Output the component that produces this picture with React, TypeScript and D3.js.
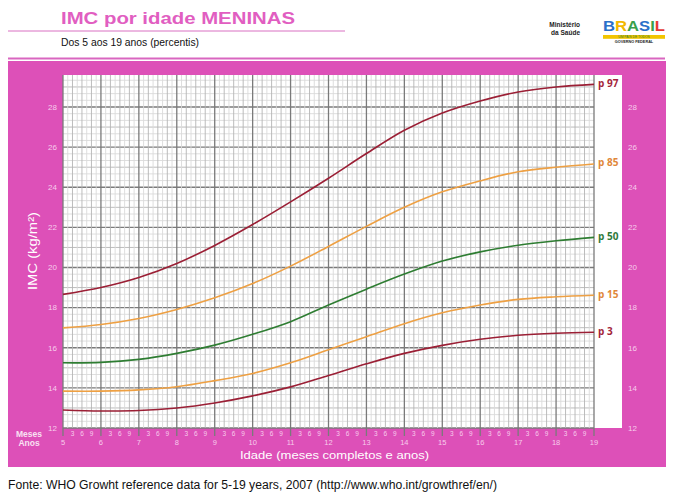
import React from "react";
import * as d3 from "d3";

const ages = [5, 6, 7, 8, 9, 10, 11, 12, 13, 14, 15, 16, 17, 18, 19];
const p3 = [12.9, 12.85, 12.87, 13.0, 13.25, 13.6, 14.05, 14.62, 15.2, 15.72, 16.12, 16.42, 16.62, 16.72, 16.77];
const p15 = [13.84, 13.84, 13.9, 14.06, 14.36, 14.72, 15.25, 15.9, 16.55, 17.2, 17.74, 18.13, 18.41, 18.54, 18.62];
const p50 = [15.25, 15.27, 15.42, 15.72, 16.13, 16.67, 17.3, 18.13, 18.92, 19.67, 20.32, 20.78, 21.11, 21.33, 21.5];
const p85 = [16.99, 17.16, 17.46, 17.91, 18.49, 19.2, 20.07, 21.05, 22.05, 23.0, 23.77, 24.32, 24.77, 25.0, 25.16];
const p97 = [18.66, 19.0, 19.5, 20.2, 21.1, 22.14, 23.27, 24.45, 25.68, 26.84, 27.7, 28.3, 28.75, 29.0, 29.13];

const seriesNames = ["p 97", "p 85", "p 50", "p 15", "p 3"];
const seriesValues = [p97, p85, p50, p15, p3];
const seriesColors = ["#9b1f35", "#eea043", "#2e7d32", "#eea043", "#9b1f35"];
const labelColors = ["#a3243a", "#e0873a", "#2f7a3a", "#e0873a", "#a3243a"];

const yTicks = [12, 14, 16, 18, 20, 22, 24, 26, 28];
const monthLabels = ["3", "6", "9"];

const title = "IMC por idade MENINAS";
const subtitle = "Dos 5 aos 19 anos (percentis)";
const xTitle = "Idade (meses completos e anos)";
const yTitle = "IMC (kg/m²)";
const footer = "Fonte: WHO Growht reference data for 5-19 years, 2007 (http://www.who.int/growthref/en/)";

const logoLetters = ["B", "R", "A", "S", "I", "L"];
const logoColors = ["#2a6fc9", "#f2b800", "#3aa04a", "#2a6fc9", "#3aa04a", "#e53935"];

const PINK = "#dd50b8";
const FONT = "'Liberation Sans', Arial, sans-serif";

export default function App() {
  const x = d3.scaleLinear().domain([5, 19]).range([63, 594]);
  const y = d3.scaleLinear().domain([12, 28]).range([428, 107]);
  const gridTop = 75;
  const gridBottom = y(12);
  const gridLeft = x(5);
  const gridRight = x(19);

  // vertical grid lines (every 1.5 months)
  const vLines: { v: number; kind: number }[] = [];
  for (let i = 0; i <= 14 * 8; i++) {
    const v = 5 + i / 8;
    const kind = i % 8 === 0 ? 2 : i % 2 === 0 ? 1 : 0;
    vLines.push({ v, kind });
  }
  // horizontal grid lines (every 1/3 unit)
  const hLines: { v: number; kind: number }[] = [];
  for (let i = 0; ; i++) {
    const v = 12 + i / 3;
    if (y(v) < gridTop - 0.5) break;
    const k = i % 3 === 0 ? (Math.round(v) % 2 === 0 ? 2 : 1) : 0;
    hLines.push({ v, kind: k });
  }
  const strokeFor = (k: number) => (k === 2 ? "#7a7a7a" : k === 1 ? "#b4b4b4" : "#dadada");
  const widthFor = (k: number) => (k === 2 ? 1.3 : 0.9);

  const line = d3
    .line<number>()
    .x((_, i) => x(ages[i]))
    .y((d) => y(d))
    .curve(d3.curveCatmullRom.alpha(0.5));

  const sorted = [...hLines].sort((a, b) => a.kind - b.kind);
  const vSorted = [...vLines].sort((a, b) => a.kind - b.kind);

  return (
    <svg
      width={676}
      height={500}
      style={{ position: "absolute", left: 0, top: 0, background: "#fff" }}
      fontFamily={FONT}
    >
      {/* header */}
      <text x={61} y={24} fontSize={17} fontWeight="bold" fill="#e15ec1" textLength={234} lengthAdjust="spacingAndGlyphs">
        {title}
      </text>
      <line x1={8} x2={345} y1={31} y2={31} stroke="#d970c2" strokeWidth={1} />
      <text x={61} y={46} fontSize={11} fill="#111" textLength={138} lengthAdjust="spacingAndGlyphs">
        {subtitle}
      </text>
      <line x1={8} x2={665} y1={58.5} y2={58.5} stroke="#d966c0" strokeWidth={2} />

      {/* logo */}
      <text x={580} y={27} fontSize={6.5} fontWeight="bold" fill="#222" textAnchor="end">Ministério</text>
      <text x={580} y={35} fontSize={6.5} fontWeight="bold" fill="#222" textAnchor="end">da Saúde</text>
      <text x={603} y={31} fontSize={15} fontWeight="bold" textLength={62} lengthAdjust="spacingAndGlyphs">
        {logoLetters.map((l, i) => (
          <tspan key={i} fill={logoColors[i]}>{l}</tspan>
        ))}
      </text>
      <rect x={603} y={35} width={62} height={3.8} fill="#f2c500" />
      <text x={634} y={38} fontSize={3.3} fill="#2e7d32" textAnchor="middle">UM PAÍS DE TODOS</text>
      <text x={634} y={43} fontSize={3.8} fontWeight="bold" fill="#222" textAnchor="middle">GOVERNO FEDERAL</text>

      {/* pink panel */}
      <rect x={8} y={61} width={658} height={406} fill={PINK} />
      <rect x={gridLeft} y={gridTop} width={622 - gridLeft} height={gridBottom - gridTop} fill="#fff" />

      {/* grid */}
      {sorted.map((h, i) => (
        <line key={"h" + i} x1={gridLeft} x2={gridRight} y1={y(h.v)} y2={y(h.v)} stroke={strokeFor(h.kind)} strokeWidth={widthFor(h.kind)} />
      ))}
      {vSorted.map((v, i) => (
        <line
          key={"v" + i}
          x1={x(v.v)}
          x2={x(v.v)}
          y1={gridTop}
          y2={v.kind === 2 ? gridBottom + 8 : gridBottom}
          stroke={strokeFor(v.kind)}
          strokeWidth={widthFor(v.kind)}
        />
      ))}

      {/* curves */}
      {seriesValues.map((vals, i) => (
        <path key={"c" + i} d={line(vals) || ""} fill="none" stroke={seriesColors[i]} strokeWidth={1.6} />
      ))}
      {seriesValues.map((vals, i) => (
        <text
          key={"l" + i}
          x={598}
          y={y(vals[vals.length - 1]) - 1}
          dy="0.35em"
          fontSize={10}
          fontWeight="bold"
          fill={labelColors[i]}
          fontFamily="'Open Sans', 'DejaVu Sans', sans-serif"
        >
          {seriesNames[i]}
        </text>
      ))}

      {/* y tick labels */}
      {yTicks.map((t) => (
        <g key={"yt" + t} fontSize={8} fill="#f7cdec">
          <text x={57} y={y(t)} dy="0.35em" textAnchor="end">{t}</text>
          <text x={628} y={y(t)} dy="0.35em">{t}</text>
        </g>
      ))}

      {/* x axis labels */}
      <text x={29} y={437} fontSize={8.5} fontWeight="bold" fill="#f9e1f3" textAnchor="middle">Meses</text>
      <text x={29} y={446} fontSize={8.5} fontWeight="bold" fill="#f9e1f3" textAnchor="middle">Anos</text>
      {ages.map((a) => (
        <g key={"xa" + a}>
          <text x={x(a)} y={445} fontSize={7.5} fill="#f7cdec" textAnchor="middle">{a}</text>
          {a < 19 &&
            monthLabels.map((m) => (
              <text key={m} x={x(a + +m / 12)} y={435.5} fontSize={6.5} fill="#f7cdec" textAnchor="middle">{m}</text>
            ))}
        </g>
      ))}
      <text x={240} y={458.5} fontSize={11.5} fill="#fff" textLength={189} lengthAdjust="spacingAndGlyphs">{xTitle}</text>
      <text
        transform={`translate(37, 251) rotate(-90)`}
        fontSize={12.5}
        fill="#fff"
        textAnchor="middle"
        textLength={78}
        lengthAdjust="spacingAndGlyphs"
      >
        {yTitle}
      </text>

      {/* footer */}
      <text x={8} y={489} fontSize={12} fill="#111" textLength={489} lengthAdjust="spacingAndGlyphs">{footer}</text>
    </svg>
  );
}
